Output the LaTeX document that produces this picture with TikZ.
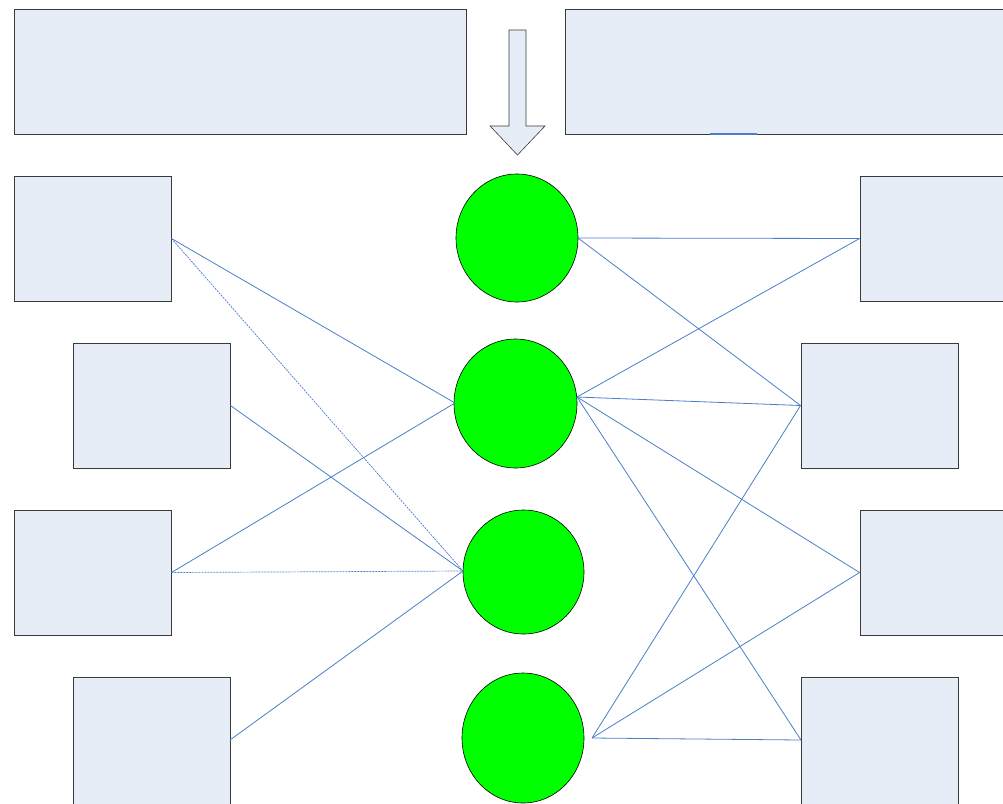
\documentclass[tikz,border=0pt]{standalone}
\usetikzlibrary{shapes.geometric}
\definecolor{boxfill}{HTML}{E6EDF7}
\definecolor{boxline}{HTML}{3A3A3A}
\definecolor{link}{HTML}{4A7EC8}
\definecolor{ball}{HTML}{00FF00}
\begin{document}
\begin{tikzpicture}[x=1pt,y=-1pt,
  box/.style={draw=boxline,fill=boxfill,line width=0.9pt,inner sep=0pt,minimum width=157pt,minimum height=125pt},
  wide/.style={draw=boxline,fill=boxfill,line width=0.9pt,inner sep=0pt,minimum height=125pt},
  ballnode/.style={ellipse,draw=black,fill=ball,line width=0.6pt,inner sep=0pt,minimum width=122pt,minimum height=128pt},
  wire/.style={draw=link,line width=0.8pt},
  dwire/.style={draw=link,line width=0.7pt,dash pattern=on 2pt off 1pt}]
\useasboundingbox (0,0) rectangle (1003,803);
\clip (0,0) rectangle (1003,803);
% top boxes
\node[wide,minimum width=452pt] (TL) at (240,71.5) {};
\node[wide,minimum width=460pt] (TR) at (795,71.5) {};
\coordinate (tra) at (710,134);
\coordinate (trb) at (757,134);
\draw[link,line width=2pt] (tra) -- (trb);
% arrow
\draw[draw=boxline,fill=boxfill,line width=0.6pt,line join=miter]
  (509,30) -- (526,30) -- (526,126) -- (545,126) -- (517.5,155) -- (490,126) -- (509,126) -- cycle;
% left boxes
\node[box] (L1) at (92.5,238.5) {};
\node[box] (L2) at (151.5,405.5) {};
\node[box] (L3) at (92.5,572.5) {};
\node[box,minimum height=129pt] (L4) at (151.5,741.5) {};
% right boxes
\node[box] (R1) at (938.5,238.5) {};
\node[box] (R2) at (879.5,405.5) {};
\node[box] (R3) at (938.5,572.5) {};
\node[box,minimum height=129pt] (R4) at (879.5,741.5) {};
% circles
\node[ballnode] (C1) at (517,238) {};
\node[ballnode,minimum width=123pt,minimum height=129pt] (C2) at (515.5,403.5) {};
\node[ballnode,minimum width=121pt,minimum height=124pt] (C3) at (523.5,572) {};
\node[ballnode,minimum width=122pt,minimum height=130pt] (C4) at (523,738) {};
% ports
\coordinate (c1r) at (578,238);
\coordinate (c2l) at (455,403);
\coordinate (c2r) at (577,397);
\coordinate (c3l) at (463,571);
\coordinate (c4r) at (592,738);
\coordinate (l4p) at (230,740);
\coordinate (r4p) at (801,740);
% left links
\draw[wire] (L1.east) -- (c2l);
\draw[dwire] (L1.east) -- (c3l);
\draw[wire] (L2.east) -- (c3l);
\draw[wire] (L3.east) -- (c2l);
\draw[dwire] (L3.east) -- (c3l);
\draw[wire] (l4p) -- (c3l);
% right links
\draw[wire] (c1r) -- (R1.west);
\draw[wire] (c1r) -- (R2.west);
\draw[wire] (c2r) -- (R1.west);
\draw[wire] (c2r) -- (R2.west);
\draw[wire] (c2r) -- (R3.west);
\draw[wire] (c2r) -- (r4p);
\draw[wire] (c4r) -- (R2.west);
\draw[wire] (c4r) -- (R3.west);
\draw[wire] (c4r) -- (r4p);
\end{tikzpicture}
\end{document}
